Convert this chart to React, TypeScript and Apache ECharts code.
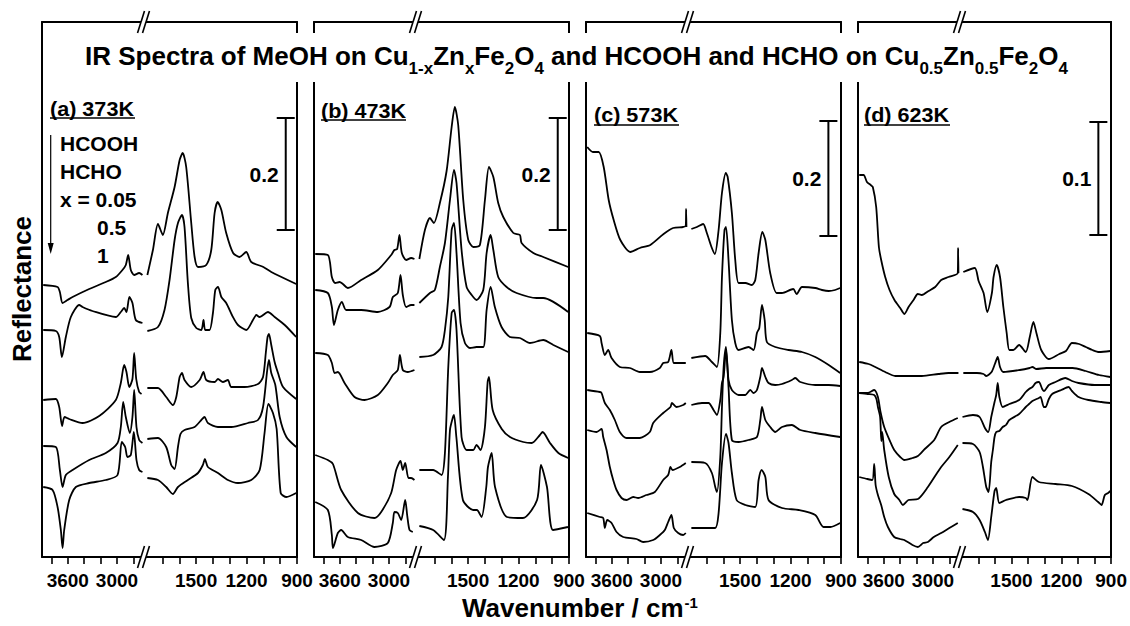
import React, { useEffect, useRef } from 'react';
import * as echarts from 'echarts';

// ---------- data: [wavenumber (cm-1), offset reflectance (a.u.)] ----------
// Panel (a) 373 K
const a1L = [[3900,272],[3725,270],[3697,265],[3664,254],[3603,257],[3542,260],[3339,268],[3136,275],[3014,280],[2933,287],[2892,292],[2863,302],[2831,287],[2790,282],[2729,284],[2689,282]];
const a1R = [[1790,282],[1757,307],[1727,333],[1698,322],[1668,344],[1628,370],[1598,397],[1580,404],[1559,390],[1529,334],[1509,300],[1489,290],[1440,292],[1410,307],[1390,344],[1372,355],[1350,347],[1321,324],[1280,304],[1241,300],[1202,305],[1172,295],[1100,290],[1053,285],[905,273]];
const a2L = [[3900,227],[3746,226],[3705,220],[3672,200],[3624,220],[3563,240],[3461,252],[3420,250],[3300,246],[3014,240],[2953,245],[2912,249],[2884,245],[2848,260],[2811,254],[2770,237],[2689,234]];
const a2R = [[1790,226],[1727,230],[1688,247],[1658,277],[1628,317],[1608,334],[1584,342],[1569,330],[1549,274],[1529,239],[1499,229],[1469,227],[1456,237],[1446,227],[1420,227],[1400,244],[1386,267],[1370,270],[1350,260],[1321,254],[1281,240],[1251,232],[1202,227],[1162,237],[1142,242],[1122,240],[1073,245],[1033,240],[973,232],[905,220]];
const a3L = [[3900,157],[3746,158],[3705,150],[3670,131],[3640,140],[3583,138],[3420,134],[3217,141],[3014,157],[2953,174],[2912,192],[2884,185],[2850,170],[2811,178],[2790,204],[2765,178],[2729,165],[2700,163]];
const a3R = [[1790,169],[1727,169],[1678,160],[1638,152],[1618,160],[1598,180],[1584,184],[1569,177],[1529,170],[1479,177],[1456,185],[1440,177],[1390,175],[1370,178],[1341,175],[1311,177],[1291,170],[1212,170],[1132,173],[1102,180],[1085,205],[1075,220],[1067,223],[1053,212],[1033,195],[1013,184],[983,170],[905,158]];
const a4L = [[3900,111],[3746,110],[3697,87],[3664,70],[3624,82],[3542,87],[3339,97],[3136,104],[2993,114],[2953,130],[2924,155],[2892,140],[2843,124],[2811,140],[2790,167],[2762,130],[2729,117],[2689,114]];
const a4R = [[1790,118],[1727,119],[1678,110],[1648,92],[1628,88],[1608,110],[1593,123],[1569,127],[1509,130],[1469,137],[1450,140],[1430,134],[1370,130],[1291,130],[1192,134],[1132,137],[1102,150],[1077,187],[1067,197],[1053,184],[1029,172],[1003,140],[963,120],[905,110]];
const a5L = [[3900,70],[3786,67],[3725,50],[3685,27],[3664,9],[3644,27],[3583,57],[3502,70],[3339,74],[3136,77],[2993,82],[2941,115],[2900,110],[2872,100],[2831,102],[2794,125],[2762,97],[2729,87],[2689,85]];
const a5R = [[1790,79],[1727,77],[1678,70],[1638,63],[1608,70],[1549,77],[1489,84],[1460,92],[1448,98],[1430,90],[1370,84],[1311,77],[1251,74],[1172,77],[1122,87],[1093,124],[1070,153],[1043,144],[1021,128],[997,64],[963,60],[905,64]];

// Panel (b) 473 K
const b1L = [[3900,303],[3746,302],[3697,280],[3656,274],[3603,275],[3563,273],[3502,269],[3339,277],[3136,287],[2973,302],[2933,307],[2900,308],[2872,322],[2843,304],[2790,297],[2729,299],[2689,298]];
const b1R = [[1790,298],[1757,327],[1727,339],[1704,334],[1668,354],[1628,386],[1598,430],[1579,450],[1559,432],[1529,357],[1499,317],[1469,310],[1430,312],[1400,357],[1376,390],[1350,380],[1321,354],[1291,340],[1231,324],[1192,322],[1182,314],[1112,304],[1053,300],[905,290]];
const b2L = [[3900,267],[3746,264],[3697,250],[3672,232],[3624,247],[3575,255],[3522,247],[3339,247],[3136,245],[2993,250],[2953,260],[2892,264],[2859,282],[2831,262],[2790,250],[2729,252],[2689,252]];
const b2R = [[1790,254],[1727,264],[1698,267],[1668,290],[1638,314],[1608,357],[1584,387],[1569,374],[1539,307],[1509,270],[1479,262],[1450,257],[1410,267],[1390,304],[1366,322],[1350,307],[1321,280],[1271,270],[1212,264],[1093,259],[1053,259],[905,245]];
const b3L = [[3900,204],[3746,202],[3697,194],[3664,184],[3624,185],[3542,174],[3420,160],[3298,157],[3136,162],[3014,174],[2953,182],[2892,187],[2867,202],[2831,187],[2770,185],[2689,187]];
const b3R = [[1790,200],[1708,202],[1658,210],[1638,227],[1618,260],[1598,327],[1584,334],[1569,304],[1545,234],[1519,214],[1489,209],[1450,210],[1410,210],[1390,247],[1366,270],[1341,250],[1301,230],[1251,220],[1192,219],[1132,214],[1053,217],[993,212],[905,205]];
const b4L = [[3900,102],[3746,97],[3684,93],[3583,67],[3379,44],[3177,39],[3095,45],[2973,64],[2912,87],[2859,96],[2831,87],[2802,94],[2762,79],[2729,79],[2689,77]];
const b4R = [[1790,87],[1708,87],[1658,82],[1638,104],[1618,190],[1598,244],[1584,247],[1569,227],[1539,120],[1509,107],[1469,107],[1450,112],[1426,107],[1400,130],[1384,175],[1376,180],[1354,147],[1300,128],[1251,120],[1172,115],[1122,114],[1073,122],[1057,125],[1013,114],[963,104],[905,99]];
const b5L = [[3900,55],[3746,47],[3697,22],[3684,9],[3624,24],[3583,27],[3502,20],[3339,17],[3177,10],[3014,14],[2953,34],[2933,45],[2892,44],[2851,37],[2802,57],[2775,40],[2749,27],[2709,25]];
const b5R = [[1790,31],[1708,27],[1644,17],[1620,80],[1608,127],[1590,140],[1584,142],[1570,120],[1531,57],[1470,47],[1448,47],[1420,40],[1392,70],[1382,90],[1360,104],[1340,70],[1269,40],[1174,39],[1090,57],[1067,92],[1031,70],[995,27],[906,30]];

// Panel (c) 573 K
const c1L = [[3900,410],[3830,405],[3760,405],[3699,390],[3638,357],[3577,337],[3496,317],[3374,305],[3258,309],[3130,312],[2968,323],[2851,329],[2729,330],[2697,331],[2693,348],[2689,330]];
const c1R = [[1790,328],[1757,330],[1720,333],[1698,324],[1668,309],[1650,303],[1628,327],[1608,364],[1585,384],[1574,380],[1549,344],[1529,297],[1509,274],[1469,274],[1430,272],[1410,277],[1390,304],[1368,325],[1350,317],[1321,284],[1283,264],[1251,264],[1184,268],[1164,263],[1132,270],[1053,269],[1013,267],[973,266],[935,267],[905,269]];
const c2L = [[3900,224],[3746,221],[3725,214],[3685,202],[3644,207],[3603,199],[3502,190],[3380,189],[3258,185],[3136,185],[3014,189],[2973,194],[2912,195],[2872,207],[2843,194],[2770,194],[2697,194]];
const c2R = [[1790,199],[1708,201],[1668,195],[1638,190],[1618,224],[1608,280],[1593,327],[1584,330],[1569,297],[1549,237],[1529,214],[1509,207],[1450,210],[1420,207],[1400,224],[1386,229],[1370,252],[1354,237],[1341,215],[1291,210],[1212,207],[1132,205],[1053,200],[973,192],[905,184]];
const c3L = [[3900,167],[3746,165],[3725,164],[3685,154],[3624,147],[3563,137],[3502,125],[3420,119],[3258,119],[3136,125],[3095,134],[2973,144],[2884,150],[2867,154],[2811,150],[2729,152],[2697,154]];
const c3R = [[1790,152],[1727,154],[1688,154],[1658,147],[1638,142],[1618,157],[1608,174],[1598,180],[1584,207],[1569,177],[1549,167],[1509,162],[1469,162],[1440,167],[1420,164],[1400,167],[1380,180],[1370,189],[1350,180],[1331,174],[1291,172],[1251,173],[1192,177],[1172,179],[1142,175],[1053,172],[973,172],[905,171]];
const c4L = [[3900,127],[3786,125],[3725,128],[3705,120],[3664,107],[3624,90],[3583,77],[3542,67],[3481,59],[3420,57],[3339,60],[3278,59],[3177,62],[3075,65],[2973,77],[2912,82],[2884,90],[2859,87],[2770,90],[2697,94]];
const c4R = [[1790,95],[1708,94],[1668,84],[1648,70],[1638,65],[1618,100],[1608,150],[1598,190],[1584,210],[1569,170],[1549,117],[1509,115],[1450,117],[1400,120],[1380,137],[1370,150],[1350,137],[1321,130],[1291,125],[1251,130],[1192,132],[1142,127],[1053,124],[905,120]];
const c5L = [[3900,44],[3746,40],[3705,39],[3685,29],[3656,37],[3603,34],[3542,25],[3461,20],[3298,18],[3217,15],[3095,17],[3014,22],[2953,27],[2912,35],[2872,42],[2843,29],[2790,24],[2729,22],[2697,24]];
const c5R = [[1790,29],[1708,29],[1648,29],[1628,44],[1608,94],[1584,123],[1569,114],[1549,84],[1521,57],[1469,52],[1410,50],[1390,77],[1372,87],[1350,80],[1331,57],[1251,49],[1152,47],[1053,42],[1004,30],[963,30],[905,34]];

// Panel (d) 623 K
const d1L = [[3900,382],[3847,382],[3806,375],[3760,372],[3734,370],[3693,350],[3660,310],[3632,297],[3583,280],[3530,267],[3470,257],[3400,249],[3348,243],[3298,250],[3237,257],[3185,263],[3136,262],[3054,266],[2973,270],[2900,277],[2811,280],[2697,284],[2693,309],[2689,284]];
const d1R = [[1790,285],[1721,289],[1698,276],[1668,264],[1646,245],[1618,264],[1608,280],[1589,292],[1569,280],[1549,250],[1529,224],[1513,207],[1489,207],[1454,212],[1414,205],[1390,220],[1368,235],[1350,224],[1321,207],[1275,198],[1212,203],[1172,206],[1136,214],[1093,213],[1053,210],[1013,207],[973,205],[905,206]];
const d2L = [[3900,195],[3786,193],[3705,190],[3583,185],[3461,181],[3300,181],[3136,181],[2933,183],[2811,184],[2689,184]];
const d2R = [[1790,184],[1708,184],[1668,183],[1652,181],[1620,185],[1600,193],[1583,200],[1569,190],[1549,185],[1450,187],[1390,189],[1374,190],[1350,188],[1291,189],[1212,189],[1132,189],[1053,186],[973,182],[905,180]];
const d3L = [[3900,164],[3795,164],[3717,167],[3672,160],[3640,145],[3595,130],[3520,115],[3473,107],[3400,100],[3350,97],[3250,99],[3184,101],[3100,108],[2985,117],[2900,130],[2800,135],[2697,139]];
const d3R = [[1795,140],[1732,142],[1692,140],[1660,129],[1640,125],[1622,140],[1602,155],[1592,162],[1583,174],[1573,160],[1553,150],[1513,153],[1454,157],[1414,165],[1394,168],[1374,170],[1355,174],[1335,175],[1315,168],[1305,166],[1275,172],[1235,175],[1176,179],[1136,176],[1096,174],[1000,172],[905,172]];
const d4L = [[3900,164],[3795,163],[3717,162],[3690,158],[3672,150],[3645,140],[3630,116],[3620,125],[3595,107],[3540,80],[3473,63],[3410,57],[3367,52],[3300,57],[3184,58],[3062,70],[2950,84],[2900,90],[2800,100],[2697,112]];
const d4R = [[1795,114],[1732,113],[1692,105],[1672,90],[1652,70],[1638,65],[1622,95],[1612,107],[1602,120],[1592,125],[1573,126],[1553,130],[1533,132],[1513,137],[1454,143],[1414,150],[1394,153],[1374,156],[1335,159],[1325,160],[1305,150],[1295,150],[1275,158],[1255,163],[1200,167],[1156,170],[1136,166],[1096,160],[1037,157],[958,155],[905,154]];
const d5L = [[3900,80],[3800,78],[3740,77],[3717,93],[3700,72],[3672,62],[3632,52],[3595,40],[3550,30],[3473,20],[3400,18],[3350,17],[3250,12],[3184,10],[3120,14],[3062,15],[2990,20],[2900,24],[2800,29],[2697,34]];
const d5R = [[1795,48],[1732,45],[1692,37],[1660,25],[1642,17],[1622,40],[1602,66],[1592,69],[1573,54],[1533,57],[1454,60],[1414,59],[1404,57],[1374,80],[1335,75],[1235,73],[1136,71],[1037,63],[978,55],[958,52],[938,62],[918,64],[905,66]];

// scale bars: [wavenumber, start, end] in each panel's offset units, and their labels
const scaleBarA = [967, 327, 439];
const scaleBarB = [967, 327, 439];
const scaleBarC = [975, 321, 436];
const scaleBarD = [977, 322, 435];
const scaleBarLabels = ['0.2', '0.2', '0.2', '0.1'];

const panelNames = ['(a) 373K', '(b) 473K', '(c) 573K', '(d) 623K'];
const legendLines = ['HCOOH', 'HCHO', 'x = 0.05', '0.5', '1'];

// axis ranges / ticks
const leftRange = [2670, 3915];
const rightRange = [900, 1810];
const leftTicks = [3800, 3600, 3400, 3200, 3000, 2800];
const leftLabels = [3600, 3000];
const rightTicks = [1700, 1600, 1500, 1400, 1300, 1200, 1100, 1000, 900];
const rightLabels = [1500, 1200, 900];

// ---------- layout ----------
const FONT = '"Liberation Sans", Arial, Helvetica, sans-serif';
const PANEL_X = [42, 314, 586, 858];
const PANEL_W = 255;
const BREAK_W = 102;
const TOP = 22;
const HEIGHT = 535;

const panelTraces = [
  [[a1L, a1R], [a2L, a2R], [a3L, a3R], [a4L, a4R], [a5L, a5R]],
  [[b1L, b1R], [b2L, b2R], [b3L, b3R], [b4L, b4R], [b5L, b5R]],
  [[c1L, c1R], [c2L, c2R], [c3L, c3R], [c4L, c4R], [c5L, c5R]],
  [[d1L, d1R], [d2L, d2R], [d3L, d3R], [d4L, d4R], [d5L, d5R]],
];
const scaleBars = [scaleBarA, scaleBarB, scaleBarC, scaleBarD];

const labelStyle = { color: '#000', fontFamily: FONT, fontWeight: 'bold', fontSize: 19 };
const blackLine = { color: '#000', width: 2 };

function buildOption() {
  const grid: any[] = [];
  const xAxis: any[] = [];
  const xTop: any[] = [];
  const yAxis: any[] = [];
  const series: any[] = [];
  const graphic: any[] = [];

  PANEL_X.forEach((L, p) => {
    grid.push({ left: L, top: TOP, width: BREAK_W, height: HEIGHT });
    grid.push({ left: L + BREAK_W, top: TOP, width: PANEL_W - BREAK_W, height: HEIGHT });
    [0, 1].forEach((side) => {
      const gi = 2 * p + side;
      const range = side === 0 ? leftRange : rightRange;
      xAxis.push({
        type: 'value', gridIndex: gi, min: range[0], max: range[1], inverse: true, position: 'bottom',
        axisLine: { show: true, onZero: false, lineStyle: blackLine },
        axisTick: { show: true, inside: false, length: 7, customValues: side === 0 ? leftTicks : rightTicks, lineStyle: { color: '#000', width: 1.6 } },
        axisLabel: {
          show: true, margin: 14, customValues: side === 0 ? leftLabels : rightLabels, showMaxLabel: true, showMinLabel: true,
          formatter: (v: number) => String(Math.round(v)), ...labelStyle,
        },
        splitLine: { show: false },
      });
      xTop.push({
        type: 'value', gridIndex: gi, min: range[0], max: range[1], inverse: true, position: 'top',
        axisLine: { show: true, onZero: false, lineStyle: blackLine },
        axisTick: { show: false }, axisLabel: { show: false }, splitLine: { show: false },
      });
      yAxis.push({
        type: 'value', gridIndex: gi, min: 0, max: HEIGHT, position: side === 0 ? 'left' : 'right',
        axisLine: { show: true, onZero: false, lineStyle: blackLine },
        axisTick: { show: false }, axisLabel: { show: false }, splitLine: { show: false },
      });
    });

    panelTraces[p].forEach((tr) => {
      tr.forEach((seg, side) => {
        series.push({
          type: 'line', xAxisIndex: 2 * p + side, yAxisIndex: 2 * p + side, data: seg,
          showSymbol: false, symbol: 'none', smooth: 0.25, silent: true,
          lineStyle: { color: '#000', width: 1.8 },
        });
      });
    });

    const label = scaleBarLabels[p];
    series.push({
      type: 'custom', xAxisIndex: 2 * p + 1, yAxisIndex: 2 * p + 1, silent: true,
      encode: { x: 0, y: [1, 2] },
      data: [scaleBars[p]],
      renderItem: (params: any, api: any) => {
        const p0 = api.coord([api.value(0), api.value(1)]);
        const p1 = api.coord([api.value(0), api.value(2)]);
        const cap = 9;
        const st = { stroke: '#000', lineWidth: 2 };
        return {
          type: 'group',
          children: [
            { type: 'line', shape: { x1: p0[0], y1: p0[1], x2: p1[0], y2: p1[1] }, style: st },
            { type: 'line', shape: { x1: p0[0] - cap, y1: p0[1], x2: p0[0] + cap, y2: p0[1] }, style: st },
            { type: 'line', shape: { x1: p1[0] - cap, y1: p1[1], x2: p1[0] + cap, y2: p1[1] }, style: st },
            {
              type: 'text', x: p0[0] - 7, y: (p0[1] + p1[1]) / 2,
              style: { text: label, fill: '#000', font: `bold 21px ${FONT}`, textAlign: 'right', align: 'right', textVerticalAlign: 'middle', verticalAlign: 'middle' },
            },
          ],
        };
      },
    });

    // axis break marks
    const bx = L + BREAK_W;
    [TOP, TOP + HEIGHT].forEach((y) => {
      graphic.push({ type: 'rect', z: 100, shape: { x: bx - 3, y: y - 2, width: 5, height: 4 }, style: { fill: '#fff' } });
      graphic.push({ type: 'line', z: 101, shape: { x1: bx - 6.5, y1: y + 11, x2: bx + 0.5, y2: y - 11 }, style: { stroke: '#000', lineWidth: 1.6 } });
      graphic.push({ type: 'line', z: 101, shape: { x1: bx - 1.5, y1: y + 11, x2: bx + 5.5, y2: y - 11 }, style: { stroke: '#000', lineWidth: 1.6 } });
    });
  });

  // panel labels (underlined)
  const labelPos = [[50, 109, 135, 118], [321, 111, 406, 120], [594, 115, 679, 125], [864, 115, 950, 125]];
  panelNames.forEach((name, p) => {
    const [x, y, x2, uy] = labelPos[p];
    graphic.push({ type: 'text', z: 100, x, y, scaleX: 1.08, style: { text: name, fill: '#000', font: `bold 20px ${FONT}`, textAlign: 'left', align: 'left', textVerticalAlign: 'middle', verticalAlign: 'middle' } });
    graphic.push({ type: 'line', z: 100, shape: { x1: x, y1: uy, x2, y2: uy }, style: { stroke: '#000', lineWidth: 1.5 } });
  });

  // legend inside panel (a)
  const legendPos = [[60, 143], [60, 171], [60, 199], [97, 227], [97, 255]];
  legendLines.forEach((t, i) => {
    graphic.push({ type: 'text', z: 100, x: legendPos[i][0], y: legendPos[i][1], style: { text: t, fill: '#000', font: `bold 21px ${FONT}`, textAlign: 'left', align: 'left', textVerticalAlign: 'middle', verticalAlign: 'middle' } });
  });
  graphic.push({ type: 'line', z: 100, shape: { x1: 50.7, y1: 135, x2: 50.7, y2: 246 }, style: { stroke: '#000', lineWidth: 1.2 } });
  graphic.push({ type: 'polygon', z: 100, shape: { points: [[47.7, 243], [53.7, 243], [50.7, 254]] }, style: { fill: '#000' } });

  // y axis title
  graphic.push({ type: 'text', z: 100, x: 22, y: 289, rotation: Math.PI / 2, style: { text: 'Reflectance', fill: '#000', font: `bold 26px ${FONT}`, textAlign: 'center', align: 'center', textVerticalAlign: 'middle', verticalAlign: 'middle' } });

  const main = { fontFamily: FONT, fontWeight: 'bold', fontSize: 26, color: '#000', verticalAlign: 'top', lineHeight: 28 };
  const sub = { fontFamily: FONT, fontWeight: 'bold', fontSize: 17, color: '#000', verticalAlign: 'top', lineHeight: 17, padding: [17, 0, 0, 0] };

  return {
    animation: false,
    backgroundColor: '#fff',
    title: [
      {
        text: '{m|IR Spectra of MeOH on Cu}{s|1-x}{m|Zn}{s|x}{m|Fe}{s|2}{m|O}{s|4}{m| and HCOOH and HCHO on Cu}{s|0.5}{m|Zn}{s|0.5}{m|Fe}{s|2}{m|O}{s|4}',
        left: 79, top: 33, backgroundColor: '#fff', padding: [10, 6, 5, 6],
        textStyle: { rich: { m: main, s: sub } },
      },
      {
        text: '{m|Wavenumber / cm}{p|-1}',
        left: 462, top: 595, padding: 0,
        textStyle: { rich: { m: { ...main, fontSize: 26, lineHeight: 26 }, p: { ...sub, fontSize: 15, lineHeight: 15, padding: [0, 0, 0, 1] } } },
      },
    ],
    grid,
    xAxis: [...xAxis, ...xTop],
    yAxis,
    series,
    graphic: { elements: graphic },
  };
}

export default function App() {
  const ref = useRef<HTMLDivElement>(null);
  useEffect(() => {
    if (!ref.current) return;
    const chart = echarts.init(ref.current, null, { renderer: 'svg' });
    chart.setOption(buildOption() as any);
    return () => chart.dispose();
  }, []);
  return <div ref={ref} style={{ position: 'absolute', left: 0, top: 0, width: 1130, height: 626, background: '#fff' }} />;
}
